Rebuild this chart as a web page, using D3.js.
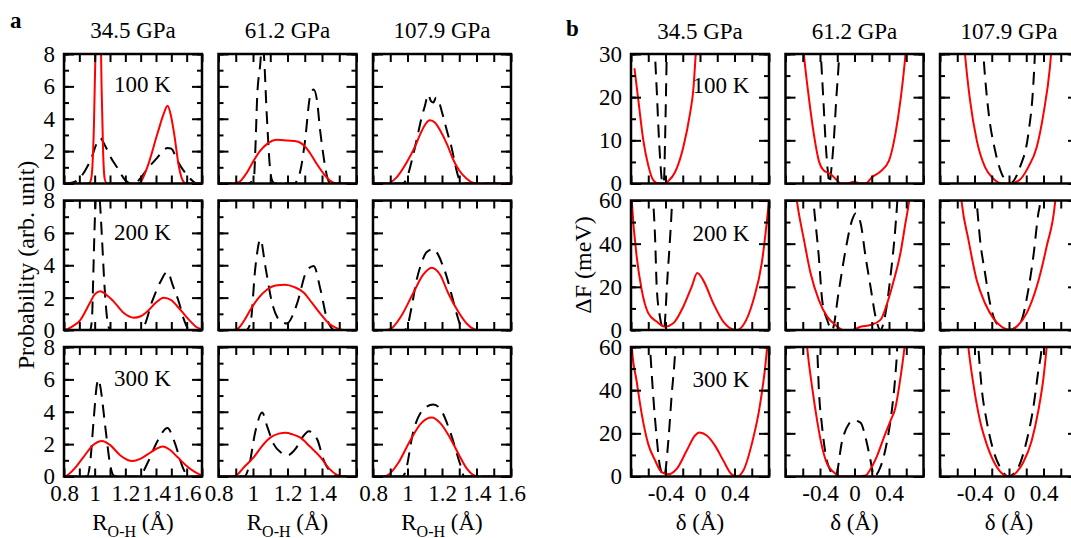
<!DOCTYPE html>
<html>
<head>
<meta charset="utf-8">
<script src="https://cdn.jsdelivr.net/npm/d3@7"></script>
<style>
body { margin: 0; background: #fff; }
svg { font-family: 'Liberation Serif', 'Times New Roman', serif; }
.tick line { stroke: #000; stroke-width: 2; }
.tick text { font-size: 23px; fill: #000; font-family: 'Liberation Serif', 'Times New Roman', serif; }
</style>
</head>
<body>
<svg id="canvas"></svg>
<script>
const pressures = ['34.5 GPa', '61.2 GPa', '107.9 GPa'];
const temperatures = ['100 K', '200 K', '300 K'];

// panel a: R(O-H) ranges and labels per column
const probDomainsX = [[0.8, 1.7], [0.8, 1.6], [0.8, 1.6]];
const probTickLabels = [[0.8, 1, 1.2, 1.4, 1.6], [0.8, 1, 1.2, 1.4], [0.8, 1, 1.2, 1.4, 1.6]];
const probTicksY = [0, 2, 4, 6, 8];

// panel b
const deltaTickLabels = [-0.4, 0, 0.4];
const energyTicksY = [[0, 10, 20, 30], [0, 20, 40, 60], [0, 20, 40, 60]];

// probability, red (quantum) and black dashed (classical); one list per temperature, one entry per pressure
const probQuantum100 = [
    [[0.8,0],[0.96,0],[0.975,0.2],[0.985,1],[0.995,3.5],[1.005,8],[1.015,14],[1.025,16],[1.035,12],[1.045,6],[1.055,2],[1.065,0.3],[1.08,0],[1.28,0],[1.3,0.1],[1.343,1.0],[1.41,3.1],[1.45,4.3],[1.475,4.8],[1.495,4.3],[1.518,3.1],[1.55,1.0],[1.58,0.1],[1.6,0],[1.7,0]],
    [[0.8,0],[0.88,0],[0.92,0.1],[0.96,0.6],[1.005,1.43],[1.04,2.0],[1.082,2.45],[1.14,2.7],[1.2,2.65],[1.256,2.6],[1.3,2.3],[1.333,1.84],[1.37,1.2],[1.41,0.6],[1.45,0.15],[1.49,0],[1.6,0]],
    [[0.8,0],[0.88,0],[0.93,0.3],[0.995,1.3],[1.04,2.2],[1.072,3.0],[1.1,3.6],[1.13,3.9],[1.16,3.75],[1.188,3.3],[1.23,2.4],[1.264,1.5],[1.3,0.8],[1.343,0.3],[1.38,0.05],[1.41,0],[1.6,0]]
];
const probClassical100 = [
    [[0.8,0],[0.85,0.05],[0.9,0.3],[0.95,1.0],[0.98,1.6],[1.01,2.4],[1.036,2.8],[1.07,2.3],[1.1,1.7],[1.146,1.0],[1.2,0.2],[1.24,0],[1.27,0.05],[1.3,0.35],[1.343,0.9],[1.409,1.6],[1.45,2.05],[1.475,2.2],[1.5,2.15],[1.54,1.4],[1.595,0.6],[1.64,0.15],[1.67,0],[1.7,0]],
    [[0.8,0],[0.97,0],[0.99,0.1],[1.005,0.3],[1.015,2.5],[1.024,5.3],[1.043,7.5],[1.053,9],[1.063,8],[1.08,4.2],[1.101,0.7],[1.115,0.1],[1.13,0],[1.24,0],[1.26,0.3],[1.275,0.8],[1.3,2.5],[1.333,5.5],[1.352,5.8],[1.37,5.2],[1.39,3.2],[1.41,1.6],[1.43,0.4],[1.45,0],[1.6,0]],
    [[0.8,0],[0.97,0],[0.995,0.3],[1.02,1.2],[1.053,2.7],[1.08,4.0],[1.101,4.8],[1.12,5.5],[1.135,5.1],[1.15,5.0],[1.165,5.3],[1.177,5.2],[1.2,4.4],[1.23,3.2],[1.256,2.2],[1.28,1.0],[1.295,0.4],[1.32,0],[1.6,0]]
];
const probQuantum200 = [
    [[0.8,0],[0.82,0.05],[0.86,0.25],[0.905,0.6],[0.97,1.7],[1.0,2.2],[1.036,2.4],[1.08,2.15],[1.12,1.8],[1.19,1.05],[1.256,0.76],[1.3,0.85],[1.343,1.14],[1.4,1.7],[1.45,2.0],[1.5,1.85],[1.54,1.45],[1.59,0.9],[1.628,0.5],[1.66,0.2],[1.7,0.05]],
    [[0.8,0],[0.88,0],[0.908,0.05],[0.95,0.6],[0.985,1.25],[1.03,1.95],[1.082,2.5],[1.13,2.75],[1.188,2.8],[1.24,2.65],[1.295,2.3],[1.34,1.7],[1.391,1.0],[1.44,0.4],[1.488,0.1],[1.53,0],[1.6,0]],
    [[0.8,0],[0.87,0],[0.899,0.05],[0.96,0.8],[1.034,2.3],[1.09,3.4],[1.14,3.85],[1.19,3.4],[1.235,2.3],[1.29,1.2],[1.343,0.4],[1.38,0.08],[1.41,0],[1.6,0]]
];
const probClassical200 = [
    [[0.8,0],[0.97,0],[0.982,0.6],[0.99,3],[0.999,6.2],[1.01,8.5],[1.022,9],[1.035,7.8],[1.048,5.6],[1.065,2.6],[1.08,0.8],[1.095,0.1],[1.11,0],[1.3,0],[1.32,0.2],[1.376,1.8],[1.43,3.0],[1.475,3.6],[1.508,2.8],[1.55,1.7],[1.58,0.7],[1.62,0],[1.7,0]],
    [[0.8,0],[0.96,0],[0.985,0.4],[1.014,3.9],[1.043,5.6],[1.072,3.9],[1.111,1.65],[1.14,0.8],[1.16,0.55],[1.198,0.4],[1.23,0.9],[1.256,1.65],[1.314,3.7],[1.352,3.95],[1.391,2.5],[1.43,0.65],[1.45,0.2],[1.47,0],[1.6,0]],
    [[0.8,0],[0.98,0],[0.995,0.1],[1.02,1.2],[1.053,3.1],[1.08,4.1],[1.11,4.8],[1.15,5.0],[1.18,4.6],[1.2,4.1],[1.227,3.3],[1.26,2.0],[1.285,1.0],[1.31,0.2],[1.33,0],[1.6,0]]
];
const probQuantum300 = [
    [[0.8,0],[0.81,0.02],[0.86,0.4],[0.927,1.2],[0.99,1.95],[1.048,2.2],[1.1,1.95],[1.168,1.3],[1.245,0.95],[1.3,1.1],[1.343,1.35],[1.4,1.7],[1.442,1.85],[1.49,1.65],[1.54,1.2],[1.6,0.65],[1.65,0.3],[1.7,0.05]],
    [[0.8,0],[0.87,0],[0.899,0.05],[0.95,0.6],[1.005,1.2],[1.05,1.85],[1.1,2.4],[1.15,2.65],[1.188,2.7],[1.23,2.6],[1.275,2.4],[1.33,1.85],[1.391,1.2],[1.44,0.5],[1.488,0.1],[1.53,0],[1.6,0]],
    [[0.8,0],[0.86,0],[0.88,0.05],[0.95,0.9],[1.014,2.2],[1.08,3.3],[1.14,3.65],[1.19,3.3],[1.246,2.4],[1.3,1.3],[1.343,0.5],[1.38,0.1],[1.41,0],[1.6,0]]
];
const probClassical300 = [
    [[0.8,0],[0.95,0],[0.97,0.8],[0.993,3.45],[1.015,5.7],[1.025,6.0],[1.036,5.6],[1.07,3.0],[1.1,0.8],[1.12,0.1],[1.14,0],[1.28,0],[1.31,0.2],[1.343,0.8],[1.41,2.2],[1.475,3.0],[1.518,2.2],[1.573,0.6],[1.6,0.1],[1.62,0],[1.7,0]],
    [[0.8,0],[0.95,0],[0.976,0.6],[1.014,2.8],[1.053,3.95],[1.082,3.1],[1.12,2.0],[1.16,1.5],[1.198,1.3],[1.246,1.7],[1.285,2.4],[1.324,2.8],[1.372,2.3],[1.41,1.0],[1.46,0.2],[1.5,0],[1.6,0]],
    [[0.8,0],[0.97,0],[0.985,0.2],[1.034,2.8],[1.092,4.15],[1.15,4.45],[1.188,4.2],[1.246,2.8],[1.304,0.8],[1.33,0],[1.6,0]]
];

// free energy profiles (meV) vs delta
const energyQuantum100 = [
    [[-0.76,26.7],[-0.715,19.3],[-0.657,10],[-0.6,4.2],[-0.54,0.7],[-0.483,0],[-0.425,0],[-0.367,0.6],[-0.29,2.6],[-0.194,8.4],[-0.116,16.2],[-0.078,21.6],[-0.05,29.8],[-0.03,36]],
    [[-0.62,38],[-0.587,30],[-0.53,20],[-0.472,11.5],[-0.414,5.3],[-0.356,3.0],[-0.278,2.2],[-0.22,1.1],[-0.162,0],[-0.085,0],[-0.008,0.4],[0.07,0],[0.128,0],[0.205,1.5],[0.301,2.8],[0.4,5.3],[0.475,11.6],[0.533,19.3],[0.591,30],[0.62,38]],
    [[-0.54,38],[-0.51,30],[-0.452,19.3],[-0.374,10],[-0.278,3.8],[-0.181,1.1],[-0.085,0],[0.012,0],[0.108,0.6],[0.224,3.8],[0.321,8.4],[0.4,16.2],[0.475,27],[0.5,33]]
];
const energyClassical100 = [
    [[-0.54,38],[-0.522,30],[-0.5,21],[-0.48,12],[-0.46,5],[-0.444,1],[-0.43,0],[-0.417,1],[-0.405,10],[-0.395,20],[-0.386,30],[-0.378,38]],
    [[-0.41,38],[-0.39,30],[-0.36,19],[-0.33,8],[-0.31,3],[-0.29,0],[-0.27,3],[-0.24,10],[-0.21,20],[-0.177,30],[-0.16,38]],
    [[-0.32,38],[-0.297,30],[-0.24,17],[-0.162,7.7],[-0.085,2.3],[0.012,0],[0.127,3.8],[0.224,11.5],[0.282,23],[0.3,30],[0.31,36]]
];
const energyQuantum200 = [
    [[-0.8,66],[-0.79,59],[-0.734,34],[-0.676,18.6],[-0.6,7.8],[-0.502,3.9],[-0.406,1.5],[-0.31,3.1],[-0.194,10.8],[-0.097,20],[-0.031,26.4],[0.038,23],[0.154,12.4],[0.27,3.9],[0.367,0.5],[0.426,0],[0.503,2.3],[0.62,14],[0.716,31],[0.79,56],[0.8,60]],
    [[-0.7,70],[-0.665,59],[-0.587,42],[-0.51,26.4],[-0.414,14],[-0.317,6.2],[-0.22,2.3],[-0.124,0],[-0.027,0],[0.07,1.5],[0.186,2.3],[0.301,4.7],[0.379,12.4],[0.456,23],[0.533,35.7],[0.591,49.6],[0.63,59],[0.65,66]],
    [[-0.57,68],[-0.548,59],[-0.471,42],[-0.374,23],[-0.278,12.4],[-0.181,5.4],[-0.085,1.5],[0.012,0],[0.108,2.3],[0.205,7.8],[0.321,20],[0.437,38.8],[0.534,59],[0.55,66]]
];
const energyClassical200 = [
    [[-0.55,66],[-0.541,59],[-0.52,42],[-0.502,20],[-0.464,6],[-0.43,0.5],[-0.417,0],[-0.4,8],[-0.386,18.6],[-0.348,42],[-0.328,56],[-0.32,64]],
    [[-0.49,66],[-0.47,57],[-0.414,34],[-0.375,14],[-0.317,4.7],[-0.26,0],[-0.18,18.6],[-0.104,37],[-0.027,51],[0.012,54],[0.07,49.6],[0.128,34],[0.186,20],[0.244,6.2],[0.3,0],[0.36,7.8],[0.417,24.8],[0.475,48],[0.495,59],[0.505,66]],
    [[-0.39,66],[-0.374,59],[-0.336,42],[-0.278,26.4],[-0.22,12.4],[-0.143,3.1],[-0.008,0],[0.127,3.1],[0.224,18.6],[0.282,34],[0.34,54],[0.36,59],[0.37,66]]
];
const energyQuantum300 = [
    [[-0.8,66],[-0.79,59.7],[-0.734,44],[-0.676,29],[-0.6,15],[-0.52,7.4],[-0.445,2],[-0.367,1],[-0.27,3.5],[-0.154,12],[-0.058,19],[-0.008,20.4],[0.078,19],[0.174,14.3],[0.27,7.4],[0.367,1],[0.426,0],[0.503,2.8],[0.6,15],[0.697,33.5],[0.774,58],[0.79,66]],
    [[-0.57,70],[-0.549,60],[-0.49,41],[-0.433,25.8],[-0.375,13.5],[-0.317,5.8],[-0.24,2],[-0.162,0],[-0.008,0],[0.128,0.5],[0.186,3.5],[0.263,9.7],[0.34,18],[0.417,25.8],[0.475,32],[0.533,45.8],[0.58,60],[0.6,68]],
    [[-0.49,68],[-0.471,60],[-0.413,42.8],[-0.336,25.8],[-0.259,15],[-0.162,5.8],[-0.066,1],[0.012,0],[0.089,2],[0.166,6.6],[0.263,16.6],[0.34,30.5],[0.4,45.8],[0.437,60],[0.45,66]]
];
const energyClassical300 = [
    [[-0.59,66],[-0.58,60],[-0.541,36.6],[-0.502,18],[-0.464,4.6],[-0.417,0],[-0.367,16.6],[-0.328,38],[-0.29,56.6],[-0.28,64]],
    [[-0.44,66],[-0.433,60],[-0.414,41],[-0.375,22.8],[-0.336,10.5],[-0.278,2.5],[-0.22,0],[-0.143,16.6],[-0.066,24.3],[-0.008,26],[0.07,25],[0.128,18],[0.186,7.4],[0.224,0],[0.3,4.3],[0.379,16.6],[0.437,32],[0.475,47.5],[0.495,60],[0.5,66]],
    [[-0.37,68],[-0.356,60],[-0.317,41],[-0.259,25.8],[-0.181,12],[-0.104,4.3],[-0.008,0],[0.108,4.3],[0.205,16.6],[0.282,32],[0.34,49],[0.379,60],[0.39,66]]
];

const probQuantum = [probQuantum100, probQuantum200, probQuantum300];
const probClassical = [probClassical100, probClassical200, probClassical300];
const energyQuantum = [energyQuantum100, energyQuantum200, energyQuantum300];
const energyClassical = [energyClassical100, energyClassical200, energyClassical300];

const width = 1071;
const height = 538;
const cellW = 138;
const cellH = 129.5;
const gapX = 16.5;
const gapY = 17;
const top0 = 54;
const fontSize = 23;

const svg = d3.select('#canvas')
    .attr('width', width)
    .attr('height', height);

const fmt = d => String(d);
let clipId = 0;

// 1つのセルを描画
const drawCell = (left, top, xDomain, yDomain, xLabels, xStep, yLabels, yMinor, curves, showXLabels, showYLabels) => {
    const x = d3.scaleLinear().domain(xDomain).range([0, cellW]);
    const y = d3.scaleLinear().domain(yDomain).range([cellH, 0]);
    const g = svg.append('g').attr('transform', `translate(${left},${top})`);

    const id = 'clip' + (clipId++);
    g.append('clipPath').attr('id', id)
        .append('rect').attr('width', cellW).attr('height', cellH);

    const line = d3.line()
        .x(d => x(d[0]))
        .y(d => y(d[1]))
        .curve(d3.curveMonotoneX);

    const plot = g.append('g').attr('clip-path', `url(#${id})`);
    curves.forEach(c => {
        plot.append('path')
            .datum(c.data)
            .attr('fill', 'none')
            .attr('stroke', c.color)
            .attr('stroke-width', 2)
            .attr('stroke-dasharray', c.dash ? '13,8' : null)
            .attr('d', line);
    });

    const xTicks = d3.range(Math.round((xDomain[1] - xDomain[0]) / xStep) + 1).map(i => xDomain[0] + i * xStep);
    const yMinorTicks = d3.range(Math.round((yDomain[1] - yDomain[0]) / yMinor) + 1).map(i => yDomain[0] + i * yMinor);

    // ticks on all four sides, pointing inward
    g.append('g').attr('transform', `translate(0,${cellH})`)
        .call(d3.axisBottom(x).tickValues(xTicks).tickSize(-8).tickFormat(''));
    g.append('g')
        .call(d3.axisTop(x).tickValues(xTicks).tickSize(-8).tickFormat(''));
    g.append('g')
        .call(d3.axisLeft(y).tickValues(yMinorTicks).tickSize(-5).tickFormat(''));
    g.append('g')
        .call(d3.axisLeft(y).tickValues(yLabels).tickSize(-10).tickPadding(9).tickFormat(showYLabels ? fmt : ''));
    g.append('g').attr('transform', `translate(${cellW},0)`)
        .call(d3.axisRight(y).tickValues(yMinorTicks).tickSize(-5).tickFormat(''));
    g.append('g').attr('transform', `translate(${cellW},0)`)
        .call(d3.axisRight(y).tickValues(yLabels).tickSize(-10).tickFormat(''));
    if (showXLabels) {
        g.append('g').attr('transform', `translate(0,${cellH})`)
            .call(d3.axisBottom(x).tickValues(xLabels).tickSize(0).tickPadding(8).tickFormat(fmt));
    }
    g.selectAll('.domain').remove();

    g.append('rect')
        .attr('width', cellW)
        .attr('height', cellH)
        .attr('fill', 'none')
        .attr('stroke', '#000')
        .attr('stroke-width', 2.5);
};

const panels = [
    { left: 64, labelX: 34, title: 'Probability (arb. unit)', letter: 'a', letterX: 10, letterY: 28, tempX: 142.5 },
    { left: 631, labelX: 591, title: '\u0394F (meV)', letter: 'b', letterX: 566, letterY: 36, tempX: 721 }
];

panels.forEach((p, pi) => {
    for (let r = 0; r < 3; r++) {
        for (let c = 0; c < 3; c++) {
            const left = p.left + c * (cellW + gapX);
            const top = top0 + r * (cellH + gapY);
            if (pi === 0) {
                drawCell(left, top, probDomainsX[c], [0, 8], probTickLabels[c], 0.1, probTicksY, 1, [
                    { data: probClassical[r][c], color: '#000', dash: true },
                    { data: probQuantum[r][c], color: '#ff0000', dash: false }
                ], r === 2, c === 0);
            } else {
                const yMax = energyTicksY[r][energyTicksY[r].length - 1];
                drawCell(left, top, [-0.8, 0.8], [0, yMax], deltaTickLabels, 0.2, energyTicksY[r], yMax / 6, [
                    { data: energyClassical[r][c], color: '#000', dash: true },
                    { data: energyQuantum[r][c], color: '#ff0000', dash: false }
                ], r === 2, c === 0);
            }
        }
    }

    // column titles
    pressures.forEach((t, c) => {
        svg.append('text')
            .attr('x', p.left + c * (cellW + gapX) + cellW / 2)
            .attr('y', pi === 0 ? 38 : 39)
            .attr('text-anchor', 'middle')
            .attr('font-size', fontSize)
            .text(t);
    });

    // temperature labels in the first column
    temperatures.forEach((t, r) => {
        svg.append('text')
            .attr('x', p.tempX)
            .attr('y', top0 + r * (cellH + gapY) + (pi === 0 ? 38 : 39) + (r === 0 ? 0 : 1))
            .attr('text-anchor', 'middle')
            .attr('font-size', fontSize)
            .text(t);
    });

    // x axis titles
    for (let c = 0; c < 3; c++) {
        const t = svg.append('text')
            .attr('x', p.left + c * (cellW + gapX) + cellW / 2)
            .attr('y', 530)
            .attr('text-anchor', 'middle')
            .attr('font-size', fontSize);
        if (pi === 0) {
            t.append('tspan').text('R');
            t.append('tspan').attr('font-size', 16).attr('dy', 7).text('O-H');
            t.append('tspan').attr('dy', -7).text(' (\u00c5)');
        } else {
            t.text('\u03b4 (\u00c5)');
        }
    }

    svg.append('text')
        .attr('transform', `translate(${p.labelX},265) rotate(-90)`)
        .attr('text-anchor', 'middle')
        .attr('font-size', 24)
        .text(p.title);

    svg.append('text')
        .attr('x', p.letterX)
        .attr('y', p.letterY)
        .attr('font-size', 23)
        .attr('font-weight', 'bold')
        .text(p.letter);
});
</script>
</body>
</html>
